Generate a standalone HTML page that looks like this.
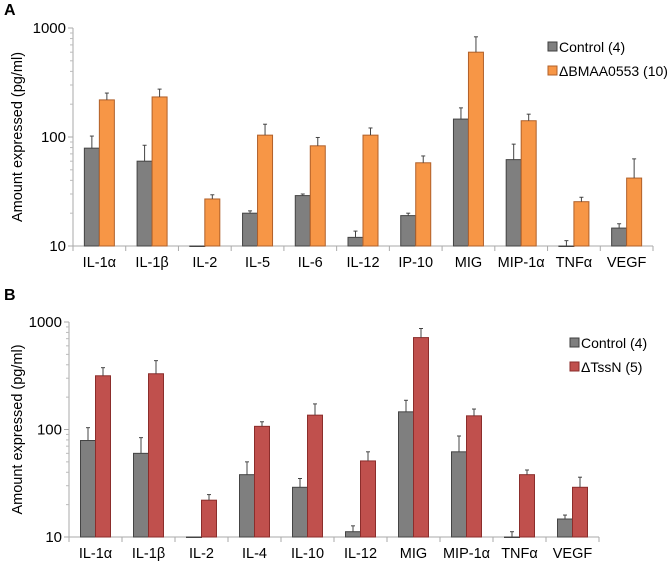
<!DOCTYPE html>
<html><head><meta charset="utf-8"><style>
body{margin:0;background:#fff}
svg{display:block;font-family:"Liberation Sans",Arial,sans-serif}
</style></head><body>
<svg id="chart" width="670" height="564" viewBox="0 0 670 564"></svg>
<script>
const catsA = ["IL-1α","IL-1β","IL-2","IL-5","IL-6","IL-12","IP-10","MIG","MIP-1α","TNFα","VEGF"];
const ctrlA = [79,60,10,20,29,12,19,146,62,10,14.6];
const ctrlErrA = [102,84,10,21,30,13.7,20,185,86,11.2,16];
const mutA = [219,233,27,104,83,104,58,600,141,25.5,42];
const mutErrA = [253,275,29.5,131,99,121,67,830,162,28,63];
const catsB = ["IL-1α","IL-1β","IL-2","IL-4","IL-10","IL-12","MIG","MIP-1α","TNFα","VEGF"];
const ctrlB = [79,60,10,38,29,11.2,146,62,10,14.7];
const ctrlErrB = [104,84,10,50,35,12.7,187,87,11.2,16];
const mutB = [316,330,22,107,136,51,716,134,38,29];
const mutErrB = [376,437,24.8,118,173,62,870,155,42,36];
const yTicks = [10,100,1000];

const NS="http://www.w3.org/2000/svg";
const svg=document.getElementById('chart');
function mk(tag,attrs,parent,text){const e=document.createElementNS(NS,tag);for(const k in attrs)e.setAttribute(k,attrs[k]);if(text!==undefined)e.textContent=text;(parent||svg).appendChild(e);return e;}

function panel(o){
  const g=mk('g',{});
  
  
  const y=v=>o.y0-(o.y0-o.y1)/2*Math.log10(v/10);
  const n=o.cats.length, cw=(o.x1-o.x0)/n;
  const xc=i=>o.x0+cw*(i+0.5);
  const L=mk('text',{x:4,y:o.letterY,'font-size':16,'font-weight':'bold',fill:'#000'},g,o.letter);
  
  
  const ya=mk('line',{x1:o.x0,y1:o.y1,x2:o.x0,y2:o.y0,stroke:'#aaa'},g);
  
  
  const xa=mk('line',{x1:o.x0,y1:o.y0,x2:o.x1,y2:o.y0,stroke:'#aaa'},g);
  
  
  for(let d=10;d<1000;d*=10){for(let m=2;m<=9;m++){mk('line',{x1:o.x0-3,x2:o.x0,y1:y(d*m),y2:y(d*m),stroke:'#bbb'},g);}}
  yTicks.forEach(t=>{
    mk('line',{x1:o.x0-5,x2:o.x0,y1:y(t),y2:y(t),stroke:'#aaa'},g);
    const tl=mk('text',{x:o.x0-7,y:y(t)+5,'font-size':15,'text-anchor':'end',fill:'#000'},g,String(t));
    
    
  });
  const yt=mk('text',{x:0,y:0,'font-size':14.5,'text-anchor':'middle',transform:`translate(22,${(o.y0+o.y1)/2}) rotate(-90)`},g,'Amount expressed (pg/ml)');
  
  
  for(let i=0;i<=n;i++)mk('line',{x1:o.x0+cw*i,x2:o.x0+cw*i,y1:o.y0,y2:o.y0+5,stroke:'#aaa'},g);
  const bw=15;
  o.cats.forEach((c,i)=>{
    const cx=xc(i);
    [[o.ctrl,o.ctrlErr,cx-bw,'#7f7f7f','#444','control'],[o.mut,o.mutErr,cx,o.fill,o.stroke,'mutant']].forEach(s=>{
      const v=s[0][i], e=s[1][i];
      const r=mk('rect',{x:s[2],y:y(v),width:bw,height:Math.max(0.5,o.y0-y(v)),fill:s[3],stroke:s[4],'stroke-width':1},g);
      
      
      const mx=s[2]+bw/2;
      mk('line',{x1:mx,x2:mx,y1:y(e),y2:y(v),stroke:'#444'},g);
      mk('line',{x1:mx-2,x2:mx+2,y1:y(e),y2:y(e),stroke:'#444'},g);
    });
    const cl=mk('text',{x:cx,y:o.y0+21,'font-size':14.5,'text-anchor':'middle',fill:'#000'},g,c);
    
    
  });
  [[o.lx,o.ly,'#7f7f7f','#3f3f3f','Control (4)'],[o.lx,o.ly+24,o.fill,o.stroke,o.mutName]].forEach((l,k)=>{
    const le=mk('g',{},g);
    
    
    mk('rect',{x:l[0],y:l[1]-5,width:9,height:9,fill:l[2],stroke:l[3]},le);
    mk('text',{x:l[0]+11,y:l[1]+5,'font-size':14,fill:'#000'},le,l[4]);
  });
}
panel({letter:'A',letterY:15,cats:catsA,ctrl:ctrlA,ctrlErr:ctrlErrA,mut:mutA,mutErr:mutErrA,x0:73,x1:653,y0:246,y1:28,fill:'#f79646',stroke:'#b0602a',lx:548,ly:47,mutName:'ΔBMAA0553  (10)'});
panel({letter:'B',letterY:300,cats:catsB,ctrl:ctrlB,ctrlErr:ctrlErrB,mut:mutB,mutErr:mutErrB,x0:69,x1:599,y0:537,y1:322,fill:'#c0504d',stroke:'#8b2d2b',lx:570,ly:343,mutName:'ΔTssN (5)'});
</script>
</body></html>
